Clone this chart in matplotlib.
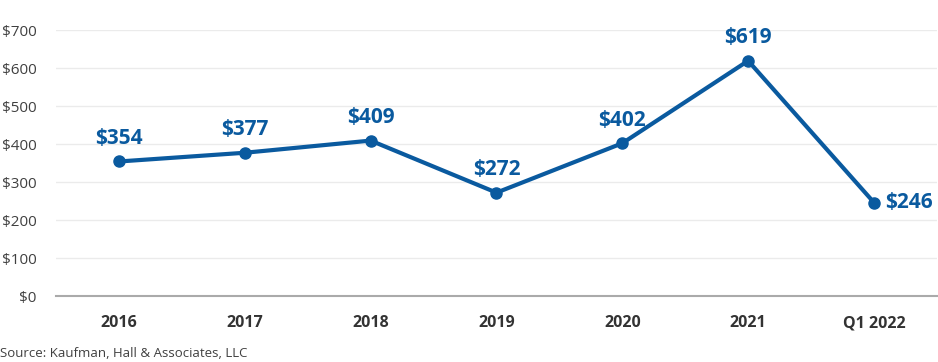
import matplotlib
matplotlib.use("Agg")
import matplotlib.pyplot as plt

categories = ["2016", "2017", "2018", "2019", "2020", "2021", "Q1 2022"]
values = [354, 377, 409, 272, 402, 619, 246]
yticks = [0, 100, 200, 300, 400, 500, 600, 700]
ytick_labels = ["$0", "$100", "$200", "$300", "$400", "$500", "$600", "$700"]

plt.rcParams['font.family'] = ['Open Sans', 'DejaVu Sans']
blue = "#0a5a9f"

fig = plt.figure(figsize=(9.38, 3.62), dpi=100)
ax = fig.add_axes([0.0598, 0.1823, 0.9390, 0.7348])
x = list(range(len(categories)))
ax.plot(x, values, color=blue, lw=3, marker="o", ms=8, zorder=3, solid_joinstyle="round")
for i, v in enumerate(values):
    if i == len(values) - 1:
        ax.annotate(f"${v}", (i, v), xytext=(8, 0), textcoords="offset points",
                    ha="left", va="center", fontsize=15, fontweight="bold", color=blue)
    else:
        ax.annotate(f"${v}", (i, v), xytext=(0, 9), textcoords="offset points",
                    ha="center", va="bottom", fontsize=15, fontweight="bold", color=blue)

ax.set_xlim(-0.5, len(categories) - 0.5)
ax.set_ylim(0, 700)
ax.set_yticks(yticks)
ax.set_yticklabels(ytick_labels, fontsize=11, color="#404040")
ax.set_xticks(x)
ax.set_xticklabels(categories, fontsize=11.5, fontweight="bold", color="#333333")
ax.tick_params(axis="both", length=0)
ax.tick_params(axis="x", pad=14)
ax.tick_params(axis="y", pad=14)
ax.grid(axis="y", color="#ebebeb", lw=1)
ax.set_axisbelow(True)
for s in ["top", "right", "left"]:
    ax.spines[s].set_visible(False)
ax.spines["bottom"].set_color("#aaaaaa")
ax.spines["bottom"].set_linewidth(1.5)

fig.text(0.0, 0.005, "Source: Kaufman, Hall & Associates, LLC", fontsize=9.5, color="#404040", ha="left", va="bottom")

fig.savefig("out.png", dpi=100)
